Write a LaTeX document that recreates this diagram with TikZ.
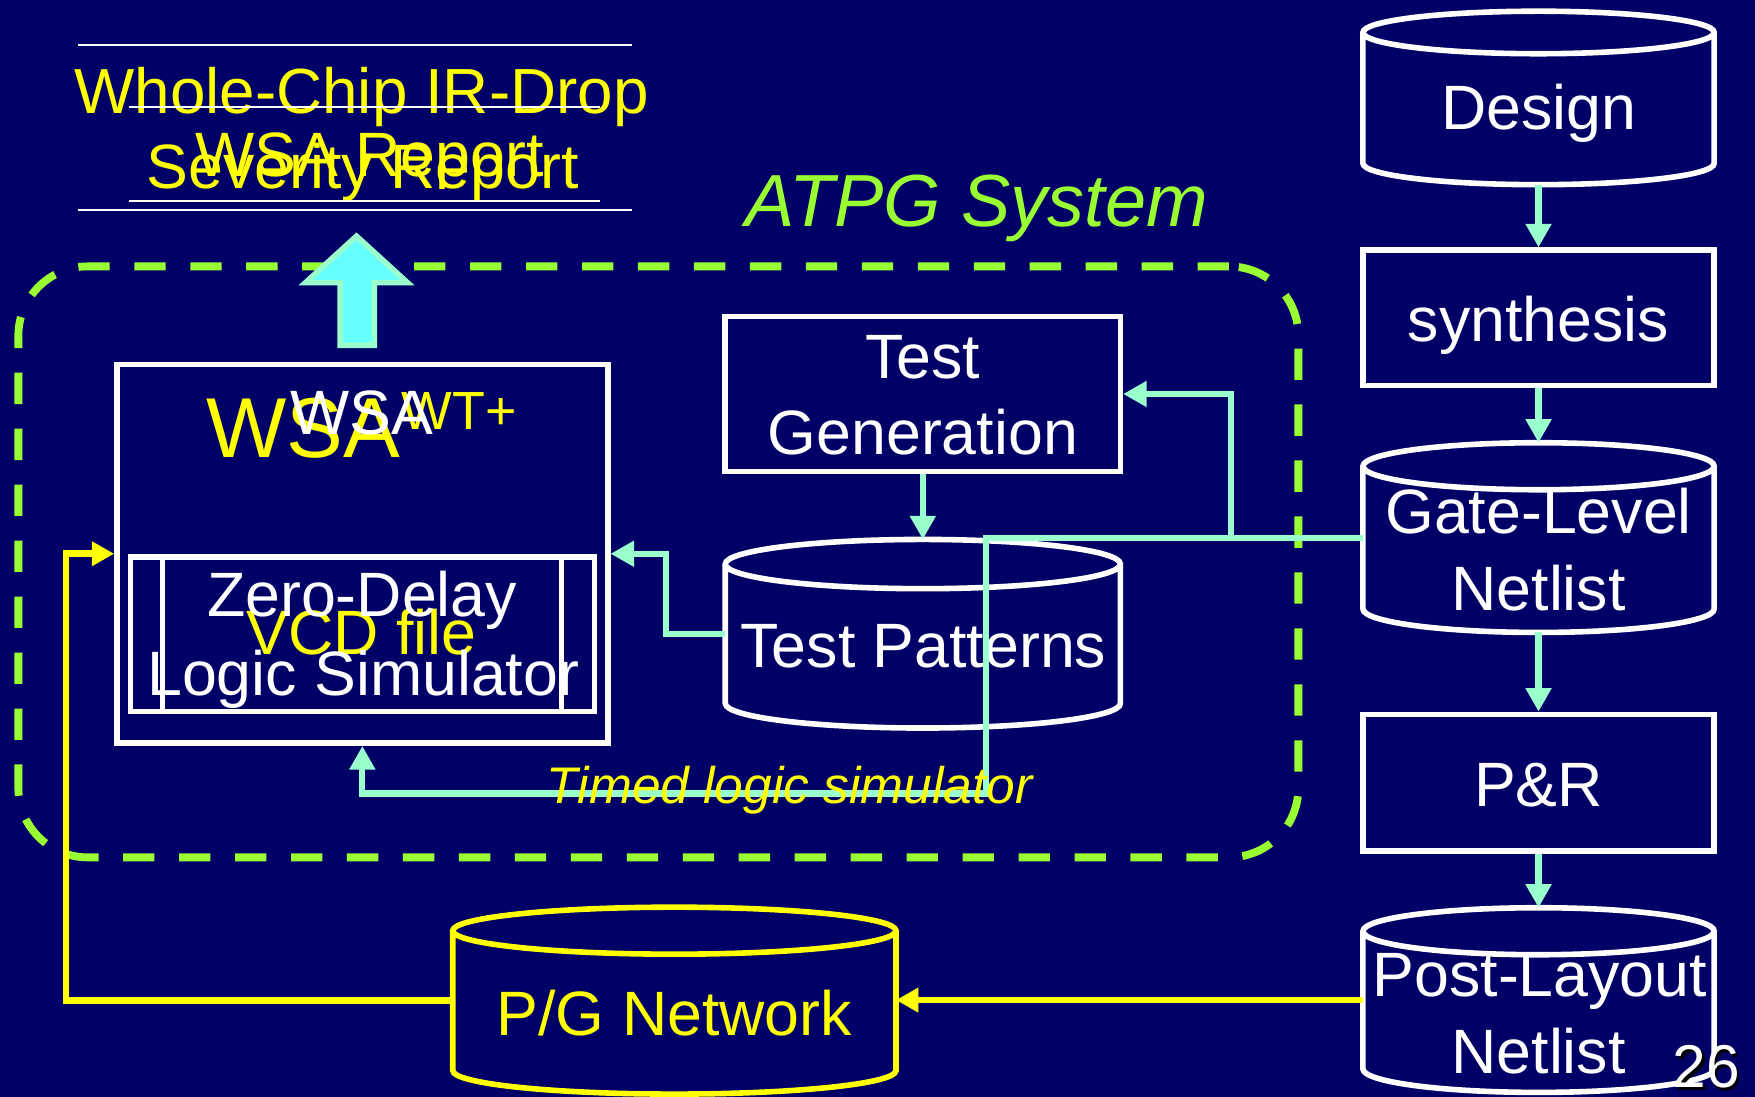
\documentclass[tikz,border=0pt]{standalone}
\usepackage{fontspec}
\setmainfont{Liberation Sans}
\usetikzlibrary{arrows.meta,calc}

\definecolor{navy}{RGB}{0,0,102}
\definecolor{aqua}{RGB}{153,255,204}
\definecolor{cyanfill}{RGB}{102,255,255}
\definecolor{lime}{RGB}{153,255,51}
\definecolor{yel}{RGB}{255,255,0}

\newcommand\fs[1]{\fontsize{#1pt}{#1pt}\selectfont}

% database drum drawn on the border of an invisible node
\newcommand\drawdrum[3]{% node, half height of end ellipse (pt), colour
  \draw[#3, line width=5pt] let \p1=(#1.north west), \p2=(#1.south east),
      \n1={(\x2-\x1)/2} in
    ({\x1+\n1},{\y1-#2pt}) ellipse[x radius=\n1, y radius=#2pt]
    ({\x1},{\y1-#2pt}) -- ({\x1},{\y2+#2pt})
    arc[start angle=180, end angle=360, x radius=\n1, y radius=#2pt]
    -- ({\x2},{\y1-#2pt});
}

\tikzset{
  whitebox/.style={draw=white, line width=5pt, inner sep=0pt},
  drum/.style={inner sep=0pt, outer sep=0pt},
  rulenode/.style={inner sep=0pt, outer sep=0pt},
  ruleline/.style={draw=white, line width=1.8pt},
  lbl/.style={anchor=base, inner sep=0pt, outer sep=0pt, text=white, font=\fs{56}},
  flow/.style={draw=aqua, line width=5.5pt, -{Triangle[length=21pt,width=22pt]}},
  power/.style={draw=yel, line width=6pt, -{Triangle[length=20pt,width=21pt]}},
  atpgframe/.style={draw=lime, line width=7pt, dash pattern=on 28pt off 22pt,
    rounded corners=62pt, inner sep=0pt, minimum width=1143.6pt, minimum height=528pt},
}

\begin{document}
\begin{tikzpicture}[x=1pt,y=-1pt]
\fill[navy] (0,0) rectangle (1568,980);
\useasboundingbox (0,0) rectangle (1568,980);

% ATPG system frame and its title
\node[atpgframe] (atpg) at (588.2,502) {};
\node[lbl, text=lime, font=\fs{66}\itshape] (atpgtitle) at (872.5,202) {ATPG System};

% report headings with their rules
\node[lbl, text=yel, font=\fs{57}] (wcrA) at (323,101) {Whole-Chip IR-Drop};
\node[lbl, text=yel] (wcrB) at (324,168) {Severity Report};
\node[lbl, text=yel] (wsarep) at (330,158) {WSA Report};
\node[rulenode, minimum width=495pt, minimum height=148pt] (wcr) at (317.5,114) {};
\node[rulenode, minimum width=421pt, minimum height=84pt] (wsar) at (325.5,138) {};
\draw[ruleline] (wcr.north west) -- (wcr.north east) (wcr.south west) -- (wcr.south east);
\draw[ruleline] (wsar.north west) -- (wsar.north east) (wsar.south west) -- (wsar.south east);

% block arrow from the WSA engine up to the reports
\draw[draw=aqua, fill=cyanfill, line width=5pt]
  (304,308.5) -- (304,252.5) -- (273,252.5) -- (318.5,211) -- (364,252.5)
  -- (334.5,252.5) -- (334.5,308.5) -- cycle;

% WSA engine
\node[whitebox, minimum width=438.5pt, minimum height=338.5pt] (wsa) at (323.75,494.75) {};
\node[whitebox, minimum width=414.5pt, minimum height=138pt] (zds) at (323.75,566.5) {};
\draw[white, line width=4.5pt]
  ($(zds.center)+(-178.25,-69)$) -- ($(zds.center)+(-178.25,69)$)
  ($(zds.center)+(178.25,-69)$) -- ($(zds.center)+(178.25,69)$);
\node[lbl, text=yel, font=\fs{76}] (wsabig) at (271,409) {WSA};
\node[lbl, anchor=base west, text=yel, font=\fs{48}] (wsawt) at (359,384) {WT+};
\node[lbl] (wsasmall) at (323.5,388) {WSA};
\node[lbl, text=yel] (vcd) at (323,585) {VCD file};
\node[lbl] (zdA) at (323.5,551) {Zero-Delay};
\node[lbl] (zdB) at (324.5,621) {Logic Simulator};

% ATPG blocks
\node[whitebox, minimum width=353pt, minimum height=138.5pt] (tg) at (824.5,352) {};
\node[lbl] (tgA) at (824.5,338) {Test};
\node[lbl] (tgB) at (824.5,406.5) {Generation};
\node[drum, minimum width=353pt, minimum height=168.5pt] (tp) at (824.5,566.2) {};
\drawdrum{tp}{22}{white}
\node[lbl] (tpA) at (825,596) {Test Patterns};

% design flow column
\node[drum, minimum width=313.8pt, minimum height=155pt] (ds) at (1374.6,87.5) {};
\drawdrum{ds}{19}{white}
\node[lbl] (dsA) at (1374.6,116) {Design};
\node[whitebox, minimum width=313.8pt, minimum height=121pt] (sy) at (1374.6,284) {};
\node[lbl] (syA) at (1374.6,305) {synthesis};
\node[drum, minimum width=313.8pt, minimum height=169.5pt] (gl) at (1374.6,480.3) {};
\drawdrum{gl}{21}{white}
\node[lbl] (glA) at (1374.6,476.5) {Gate-Level};
\node[lbl] (glB) at (1374.6,545) {Netlist};
\node[whitebox, minimum width=313.8pt, minimum height=121.7pt] (pr) at (1374.6,699.2) {};
\node[lbl] (prA) at (1374.6,720.7) {P\&R};
\node[drum, minimum width=313.8pt, minimum height=165pt] (pl) at (1374.6,893.5) {};
\drawdrum{pl}{21}{white}
\node[lbl] (plA) at (1375.8,890.5) {Post-Layout};
\node[lbl] (plB) at (1374.6,959) {Netlist};

% power/ground network
\node[drum, minimum width=396pt, minimum height=167pt] (pg) at (602.5,894) {};
\drawdrum{pg}{21}{yel}
\node[lbl, text=yel] (pgA) at (602.5,925) {P/G Network};

% connectors
\coordinate (j1) at (1100,352);
\coordinate (j2) at (595,494.75);
\coordinate (k1) at (881,709);
\coordinate (k2) at (59,494.75);
\draw[flow] (ds.south) -- (sy.north);
\draw[flow] (sy.south) -- (gl.north);
\draw[flow] (gl.south) -- (pr.north);
\draw[flow] (pr.south) -- (pl.north);
\draw[flow] (tg.south) -- (tp.north);
\draw[flow] (tp.west) -| (j2) -- (wsa.east);
\draw[flow] (gl.west) -| (j1) -- (tg.east);
\draw[flow] (gl.west) -| (k1) -| (wsa.south);
\draw[power] (pl.west) -- (pl.west -| pg.east);
\draw[power] (pg.west) -| (k2) -- (wsa.west);

\node[lbl, text=yel, font=\fs{46}\itshape] (timed) at (705.5,718) {Timed logic simulator};

% page number
\node[lbl, anchor=base east, text=black, font=\fs{54}] (pgnoshadow) at (1556.6,974) {26};
\node[lbl, anchor=base east, font=\fs{54}] (pgno) at (1554.6,972) {26};
\end{tikzpicture}
\end{document}
